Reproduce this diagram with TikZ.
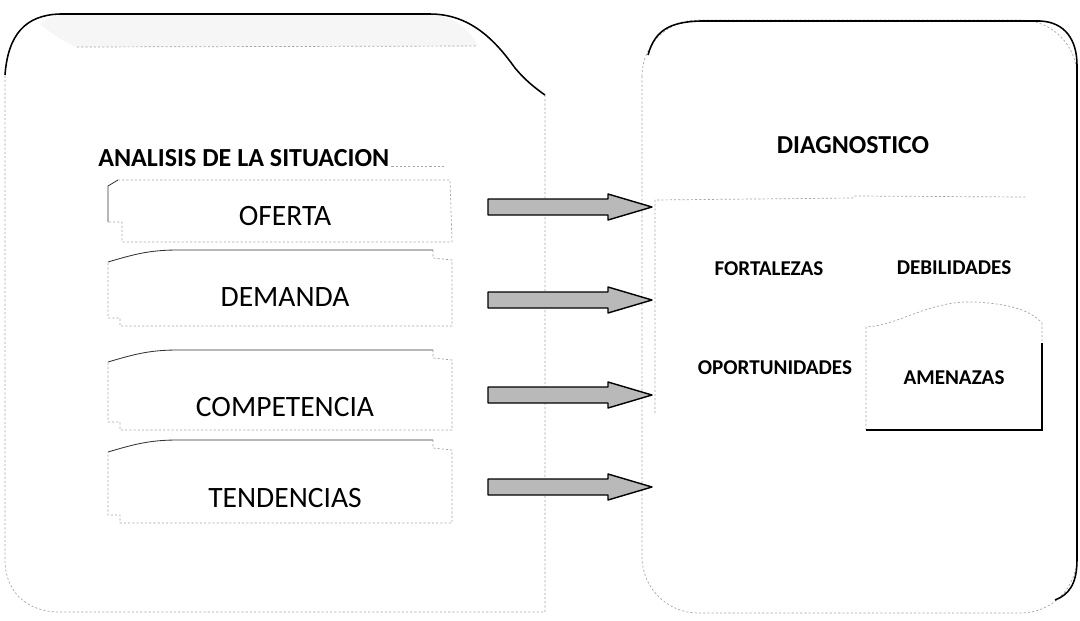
\documentclass[tikz,border=0pt]{standalone}
\usepackage{fontspec}
\setmainfont{Carlito}
\usetikzlibrary{calc}
\tikzset{
  faint/.style={draw=gray!70, line width=0.5pt, dash pattern=on 1.5pt off 1.5pt},
  dark/.style={draw=black, line width=1.1pt},
  thin/.style={draw=black!80, line width=0.6pt},
  arrowfill/.style={fill=gray!55, draw=black, line width=1pt, line join=round},
  lbl/.style={font=\fontsize{21}{24}\selectfont, text=black, inner sep=0pt},
  hdr/.style={font=\fontsize{18.5}{22}\selectfont\bfseries, text=black, inner sep=0pt},
  swot/.style={font=\fontsize{15}{18}\selectfont\bfseries, text=black, inner sep=0pt},
}
\newcommand\blockarrow[2]{%
  \filldraw[arrowfill] ($(#1)+(0,-8)$) -- ($(#2)+(-44,-8)$) -- ($(#2)+(-44,-13)$) -- (#2)
    -- ($(#2)+(-44,13)$) -- ($(#2)+(-44,8)$) -- ($(#1)+(0,8)$) -- cycle;}
\newcommand\tabbox[3]{% #1 top, #2 bottom, #3 name
  \draw[faint] (433,#1) -- (433,#1+8) -- (452,#1+10) -- (452,#2) -- (120,#2) -- (120,#2-8) -- (108,#2-8) -- (108,#1+12);
  \draw[thin] (108,#1+12) .. controls (135,#1+4) and (150,#1) .. (178,#1) -- (433,#1);
}
\begin{document}
\begin{tikzpicture}[x=0.025cm,y=-0.025cm]
\useasboundingbox (0,0) rectangle (1080,620);
\fill[white] (0,0) rectangle (1080,620);

% left panel
\fill[gray!7] (40,24) .. controls (48,18) and (54,15) .. (60,15) -- (430,15) .. controls (452,15) and (468,28) .. (478,46) -- (77,47) .. controls (60,40) and (50,32) .. (40,24) -- cycle;
\draw[faint] (77,47) -- (477,46);
\draw[faint] (545,95) -- (545,612) -- (60,612) .. controls (25,612) and (5,590) .. (5,560) -- (5,75);
\draw[dark] (5,75) .. controls (8,35) and (25,15) .. (60,14) -- (430,14) .. controls (470,14) and (495,40) .. (515,68) .. controls (525,80) and (535,88) .. (545,95);

\node[hdr, anchor=base west] (analisis) at (98,166) {ANALISIS DE LA SITUACION};
\draw[faint] (analisis.base east) ++(2,0) -- (445,166);

% OFERTA box
\draw[faint] (118,180) -- (450,180) -- (452,242) -- (122,242) -- (122,222) -- (108,222);
\draw[thin] (108,222) -- (108,186) -- (118,180);
\node[lbl] (oferta) at (285,216) {OFERTA};
\tabbox{250}{326}{demanda}
\node[lbl] (demanda) at (285,297) {DEMANDA};
\tabbox{350}{430}{competencia}
\node[lbl] (competencia) at (285,407) {COMPETENCIA};
\tabbox{440}{523}{tendencias}
\node[lbl] (tendencias) at (285,498) {TENDENCIAS};

% right panel
\draw[faint, rounded corners=40] (642,20) rectangle (1077,613);
\draw[dark] (648,55) .. controls (655,30) and (670,22) .. (700,21) -- (1040,21) .. controls (1065,22) and (1077,40) .. (1077,65) -- (1077,560) .. controls (1077,585) and (1068,595) .. (1055,600);

\node[hdr, font=\fontsize{18.4}{22}\selectfont\bfseries] (diag) at (853,145) {DIAGNOSTICO};

\draw[faint] (655,413) -- (655,200) -- (853,198) -- (855,196) -- (1025,197);
\node[swot] (fort) at (769,269) {FORTALEZAS};
\node[swot] (deb) at (954,268) {DEBILIDADES};
\node[swot] (oport) at (775,368) {OPORTUNIDADES};
\node[swot] (amen) at (954,378) {AMENAZAS};
\draw[faint] (866,430) -- (866,327) .. controls (900,325) and (930,300) .. (975,302) .. controls (1010,304) and (1030,310) .. (1042,323) -- (1042,343);
\draw[dark] (1042,343) -- (1042,430) -- (866,430);

% arrows
\coordinate (s1) at (488,207); \coordinate (e1) at (652,207);
\coordinate (s2) at (488,300); \coordinate (e2) at (652,300);
\coordinate (s3) at (488,395); \coordinate (e3) at (652,395);
\coordinate (s4) at (488,487); \coordinate (e4) at (652,487);
\blockarrow{s1}{e1}
\blockarrow{s2}{e2}
\blockarrow{s3}{e3}
\blockarrow{s4}{e4}
\end{tikzpicture}
\end{document}
